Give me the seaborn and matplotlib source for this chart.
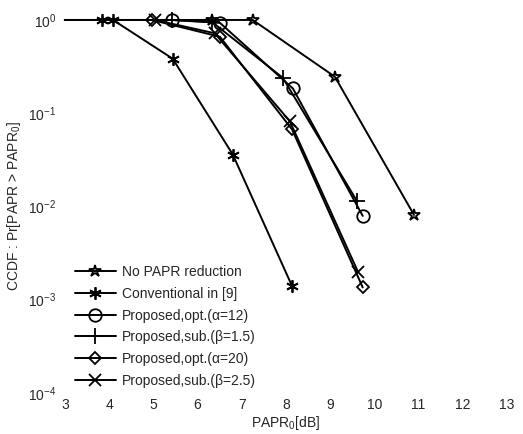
import matplotlib
matplotlib.use("Agg")
import matplotlib.pyplot as plt
import seaborn as sns

# <--- data --->
labels = [
    "No PAPR reduction",
    "Conventional in [9]",
    "Proposed,opt.(\u03b1=12)",
    "Proposed,sub.(\u03b2=1.5)",
    "Proposed,opt.(\u03b1=20)",
    "Proposed,sub.(\u03b2=2.5)",
]
markers = ["*", (6, 2, 0), "o", "+", "D", "x"]

x_none = [3.0, 6.33, 7.25, 9.11, 10.9]
y_none = [1.0, 1.0, 1.0, 0.246, 0.0081]

x_conv = [3.0, 3.84, 4.09, 5.44, 6.80, 8.14]
y_conv = [1.0, 1.0, 1.0, 0.384, 0.036, 0.0014]

x_opt12 = [3.0, 5.42, 6.51, 8.16, 9.74]
y_opt12 = [1.0, 1.0, 0.93, 0.184, 0.0079]

x_sub15 = [3.0, 5.42, 6.33, 7.93, 9.61]
y_sub15 = [1.0, 1.0, 0.95, 0.24, 0.0114]

x_opt20 = [3.0, 4.97, 6.51, 8.14, 9.74]
y_opt20 = [1.0, 1.0, 0.66, 0.067, 0.00135]

x_sub25 = [3.0, 5.04, 6.39, 8.09, 9.63]
y_sub25 = [1.0, 1.0, 0.72, 0.082, 0.0020]

xs = [x_none, x_conv, x_opt12, x_sub15, x_opt20, x_sub25]
ys = [y_none, y_conv, y_opt12, y_sub15, y_opt20, y_sub25]
sizes = [9, 9, 9, 11, 6, 8]

sns.set_style("white")
plt.rcParams["font.family"] = ["Liberation Sans", "DejaVu Sans"]
plt.rcParams["mathtext.fontset"] = "custom"
plt.rcParams["mathtext.rm"] = "Liberation Sans"
plt.rcParams["mathtext.it"] = "Liberation Sans"

fig = plt.figure(figsize=(5.23, 4.34), dpi=100)
ax = fig.add_axes([0.124, 0.095, 0.845, 0.859])

for x, y, lab, m, s in zip(xs, ys, labels, markers, sizes):
    sns.lineplot(
        x=x, y=y, ax=ax, color="black", linewidth=1.4,
        marker=m, markersize=s, markerfacecolor="none",
        markeredgecolor="black", markeredgewidth=1.3,
        markevery=list(range(1, len(x))), label=lab,
        sort=False, estimator=None, clip_on=False,
    )

ax.set_yscale("log")
ax.set_xlim(3, 13)
ax.set_ylim(1e-4, 1)
ax.set_xticks(range(3, 14))
ax.set_yticks([1e-4, 1e-3, 1e-2, 1e-1, 1])
ax.minorticks_off()
ax.tick_params(axis="x", length=0, labelsize=10, pad=4)
ax.tick_params(axis="y", length=0, labelsize=10, pad=6)
for sp in ax.spines.values():
    sp.set_visible(False)

ax.set_xlabel("PAPR$_0$[dB]", fontsize=10, labelpad=1)
ax.set_ylabel("CCDF : Pr[PAPR > PAPR$_0$]", fontsize=10, labelpad=4)

ax.legend(
    loc="lower left", bbox_to_anchor=(0.0, -0.012), frameon=False,
    fontsize=10, handlelength=3.0, handletextpad=0.4, labelspacing=0.55,
    borderaxespad=0.3,
)

fig.savefig("out.png", dpi=100)
